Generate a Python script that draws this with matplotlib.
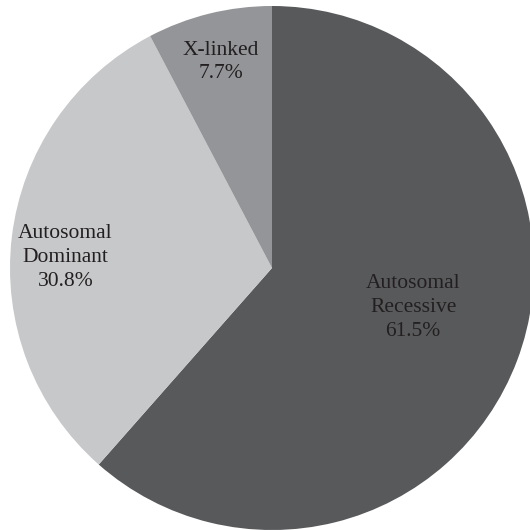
import numpy as np
import matplotlib.pyplot as plt

labels = ['Autosomal\nRecessive', 'Autosomal\nDominant', 'X-linked']
values = [61.5, 30.8, 7.7]
colors = ['#58595b', '#c7c8ca', '#939598']

plt.rcParams['font.family'] = ['Liberation Serif', 'DejaVu Serif']

fig = plt.figure(figsize=(5.3, 5.3), dpi=100)
ax = fig.add_axes([0, 0, 1, 1])

cx, cy, R = 272, 262, 262
wedges, _ = ax.pie(values, colors=colors, startangle=90, counterclock=False,
                   center=(cx, cy), radius=R, frame=True,
                   wedgeprops=dict(linewidth=0))
ax.set_xlim(0, 530)
ax.set_ylim(0, 530)
ax.set_aspect('equal')
ax.axis('off')

# label radius (fraction of R) and angle shift per slice
lab_r = [0.56, 0.79, 0.81]
lab_shift = [5, 4, 0]
for w, lab, v, r, s in zip(wedges, labels, values, lab_r, lab_shift):
    ang = np.deg2rad((w.theta1 + w.theta2) / 2 + s)
    x = cx + r * R * np.cos(ang)
    y = cy + r * R * np.sin(ang)
    ax.text(x, y, f'{lab}\n{v}%', ha='center', va='center', fontsize=15.5,
            color='#231f20', linespacing=1.35)

fig.savefig('out.png', dpi=100)
